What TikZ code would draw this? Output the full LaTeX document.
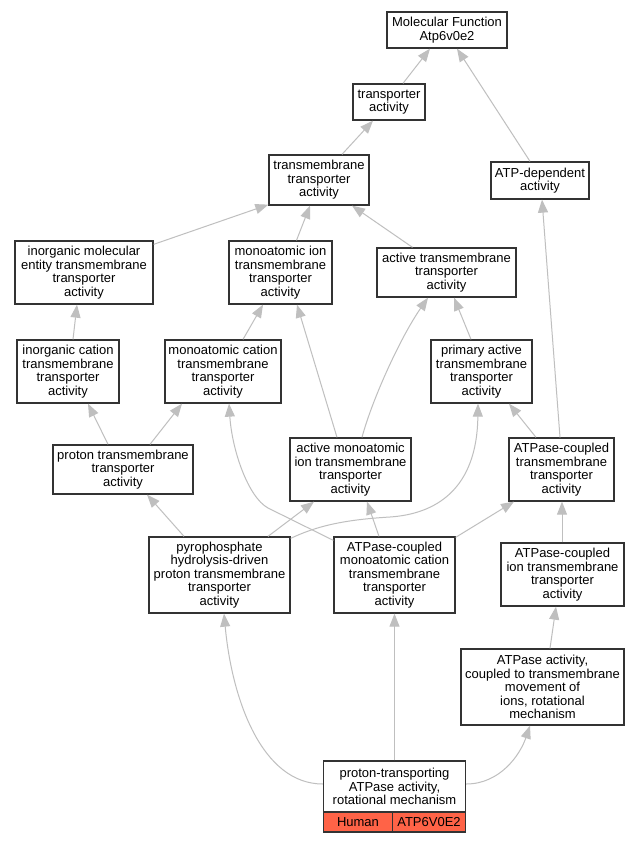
\documentclass[tikz,border=0pt]{standalone}
\usepackage{fontspec}
\setmainfont{Liberation Sans}
\usetikzlibrary{arrows.meta}
\definecolor{edgegray}{gray}{0.75}
\definecolor{boxline}{gray}{0.2}
\definecolor{tomatofill}{HTML}{FF6347}
\tikzset{
 box/.style={draw=boxline, line width=1.3pt, fill=white, align=center, inner sep=0pt, font=\fontsize{13}{13.5}\selectfont},
 cell/.style={box, fill=tomatofill},
 edge/.style={draw=edgegray, line width=1pt, -{Triangle[length=13pt,width=10pt,fill=edgegray]}},
}
\begin{document}
\begin{tikzpicture}[x=1pt,y=-1pt]
\useasboundingbox[fill=white] (0,0) rectangle (640,843);
% nodes
\node[box, minimum width=120, minimum height=36] (mf) at (447,30) {Molecular Function\\Atp6v0e2};
\node[box, minimum width=72, minimum height=36] (ta) at (389,102) {transporter\\activity};
\node[box, minimum width=100, minimum height=50] (tt) at (319,180) {transmembrane\\transporter\\activity};
\node[box, minimum width=98, minimum height=37] (atpdep) at (540,180.5) {ATP-dependent\\activity};
\node[box, minimum width=138, minimum height=63] (ime) at (84,272.5) {inorganic molecular\\entity transmembrane\\transporter\\activity};
\node[box, minimum width=103, minimum height=63] (mi) at (280.5,272.5) {monoatomic ion\\transmembrane\\transporter\\activity};
\node[box, minimum width=139, minimum height=49] (at) at (446.5,272.5) {active transmembrane\\transporter\\activity};
\node[box, minimum width=102, minimum height=63] (ic) at (68,371.5) {inorganic cation\\transmembrane\\transporter\\activity};
\node[box, minimum width=116, minimum height=63] (mc) at (223,371.5) {monoatomic cation\\transmembrane\\transporter\\activity};
\node[box, minimum width=101, minimum height=63] (pa) at (481.5,371.5) {primary active\\transmembrane\\transporter\\activity};
\node[box, minimum width=140, minimum height=49] (pt) at (123,469.5) {proton transmembrane\\transporter\\activity};
\node[box, minimum width=121, minimum height=63] (ami) at (350.5,469.5) {active monoatomic\\ion transmembrane\\transporter\\activity};
\node[box, minimum width=105, minimum height=63] (acT) at (561.5,469.5) {ATPase-coupled\\transmembrane\\transporter\\activity};
\node[box, minimum width=141, minimum height=76] (pyro) at (219.5,575) {pyrophosphate\\hydrolysis-driven\\proton transmembrane\\transporter\\activity};
\node[box, minimum width=121, minimum height=76] (acmc) at (394.5,575) {ATPase-coupled\\monoatomic cation\\transmembrane\\transporter\\activity};
\node[box, minimum width=123, minimum height=63] (aci) at (562.5,574.5) {ATPase-coupled\\ion transmembrane\\transporter\\activity};
\node[box, minimum width=163, minimum height=76] (rot) at (542.5,687) {ATPase activity,\\coupled to transmembrane\\movement of\\ions, rotational\\mechanism};
\node[box, minimum width=142, minimum height=51] (ptr) at (394.5,786.5) {proton-transporting\\ATPase activity,\\rotational mechanism};
\node[cell, minimum width=69, minimum height=20] (human) at (358,822) {Human};
\node[cell, minimum width=73, minimum height=20] (gene) at (429,822) {ATP6V0E2};
% edges
\draw[edge] ([xshift=14pt]ta.north) -- ([xshift=-17pt]mf.south);
\draw[edge] ([xshift=-10pt]atpdep.north) -- ([xshift=10pt]mf.south);
\draw[edge] ([xshift=23pt]tt.north) -- ([xshift=-16pt]ta.south);
\draw[edge] ([yshift=-4pt]ime.north east) -- ([yshift=1pt]tt.south west);
\draw[edge] ([xshift=16pt]mi.north) -- ([xshift=-9pt]tt.south);
\draw[edge] ([xshift=-34pt]at.north) -- ([xshift=33pt]tt.south);
\draw[edge] ([xshift=5pt]ic.north) -- ([xshift=-7pt]ime.south);
\draw[edge] ([xshift=20pt]mc.north) -- ([xshift=-17.5pt]mi.south);
\draw[edge] ([xshift=-10.5pt]pa.north) -- ([xshift=7.5pt]at.south);
\draw[edge] ([xshift=-15pt]pt.north) -- ([xshift=20pt]ic.south);
\draw[edge] ([xshift=27pt]pt.north) -- ([xshift=-41pt]mc.south);
\draw[edge] ([xshift=-13.5pt]ami.north) -- ([xshift=16.5pt]mi.south);
\draw[edge] ([xshift=11.5pt]ami.north) .. controls (372,400) and (400,338) .. ([xshift=-18.5pt]at.south);
\draw[edge] ([xshift=-25.5pt]acT.north) -- ([xshift=27.5pt]pa.south);
\draw[edge] ([xshift=-1.5pt]acT.north) -- ([xshift=2pt]atpdep.south);
\draw[edge] ([xshift=-35.5pt]pyro.north) -- ([xshift=24pt]pt.south);
\draw[edge] ([xshift=48.5pt]pyro.north) -- ([xshift=-36.5pt]ami.south);
\draw[edge] ([yshift=-2pt]pyro.north east) .. controls (315,527) and (340,520) .. (390,517) .. controls (435,514) and (477,490) .. ([xshift=-3.5pt]pa.south);
\draw[edge] ([yshift=-4pt]acmc.north west) -- (268,508) .. controls (248,497) and (232,450) .. ([xshift=6pt]mc.south);
\draw[edge] ([xshift=-15.5pt]acmc.north) -- ([xshift=16.5pt]ami.south);
\draw[edge] ([yshift=-1pt]acmc.north east) -- ([xshift=-47.5pt]acT.south);
\draw[edge] ([xshift=-0.5pt]aci.north) -- ([xshift=0.5pt]acT.south);
\draw[edge] ([xshift=7.5pt]rot.north) -- ([xshift=-6.5pt]aci.south);
\draw[edge] ([yshift=2.5pt]ptr.east) .. controls (500,784) and (520,755) .. ([xshift=-12.5pt]rot.south);
\draw[edge] ([yshift=2.5pt]ptr.west) .. controls (262,784) and (232,700) .. ([xshift=4.5pt]pyro.south);
\draw[edge] (ptr.north) -- (acmc.south);
\end{tikzpicture}
\end{document}
